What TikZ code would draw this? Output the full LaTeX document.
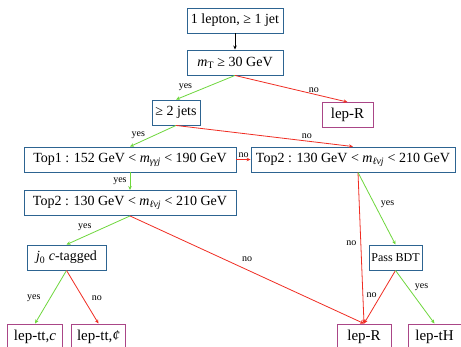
\documentclass[tikz,border=0pt]{standalone}
\usepackage{fontspec}
\setmainfont{Liberation Serif}
\usetikzlibrary{arrows.meta}

\definecolor{cutblue}{RGB}{45,100,145}
\definecolor{regionpink}{RGB}{170,70,135}
\definecolor{yesgreen}{RGB}{110,215,60}
\definecolor{nored}{RGB}{240,45,35}

\tikzset{
  cut/.style={draw=cutblue, line width=0.9pt, fill=white, inner sep=0pt,
    minimum height=25pt, font=\fontsize{14}{16}\selectfont},
  region/.style={draw=regionpink, line width=0.9pt, fill=white, inner sep=0pt,
    minimum height=25pt, font=\fontsize{15}{17}\selectfont},
  yesarrow/.style={yesgreen, line width=0.8pt, -{Stealth[length=4pt,width=3.5pt]}},
  noarrow/.style={nored, line width=0.8pt, -{Stealth[length=4pt,width=3.5pt]}},
  lbl/.style={text=black, inner sep=1pt, font=\fontsize{10}{12}\selectfont}
}

\begin{document}
\begin{tikzpicture}[x=1pt,y=-1pt]
\useasboundingbox (0,0) rectangle (461,346);
\fill[white] (0,0) rectangle (461,346);
\clip (0,0) rectangle (461,346);

% selection boxes
\node[cut, minimum width=96pt] (start) at (235,20.5) {1 lepton, ≥ 1 jet};
\node[cut, minimum width=96pt] (mt) at (235,62.5) {\textit{m}\textsubscript{T} ≥ 30 GeV};
\node[cut, minimum width=48pt] (jets) at (176,112.5) {≥ 2 jets};
\node[cut, minimum width=212pt] (topA) at (130,159.5) {Top1 : 152 GeV < \textit{m}\textsubscript{\textit{γγj}} < 190 GeV};
\node[cut, minimum width=204pt] (topB) at (353,159.5) {Top2 : 130 GeV < \textit{m}\textsubscript{\textit{ℓνj}} < 210 GeV};
\node[cut, minimum width=212pt] (topC) at (130,203) {Top2 : 130 GeV < \textit{m}\textsubscript{\textit{ℓνj}} < 210 GeV};
\node[cut, minimum width=79pt] (ctag) at (66.5,257.5) {\textit{j}\textsubscript{0} \textit{c}-tagged};
\node[cut, minimum width=53pt, font=\fontsize{12}{14}\selectfont] (bdt) at (395.5,257.5) {Pass BDT};

% regions
\node[region, minimum width=51pt] (lepRa) at (347.5,115) {lep-R};
\node[region, minimum width=55pt] (ttc) at (35,336.5) {lep-tt,\textit{c}};
\node[region, minimum width=54pt] (ttnc) at (98.5,336.5) {lep-tt,\textit{¢}};
\node[region, minimum width=54pt] (lepRb) at (364,336.5) {lep-R};
\node[region, minimum width=53pt] (tH) at (434.5,336.5) {lep-tH};

\coordinate (fork) at ([xshift=5pt]topB.south);

\draw[line width=0.8pt, -{Stealth[length=4pt,width=3.5pt]}] (start.south) -- (mt.north);
\draw[yesarrow] (mt.south) -- (jets.north) node[lbl, pos=.5, left=12pt] {yes};
\draw[noarrow] (mt.south) -- (lepRa.north) node[lbl, pos=.7, above] {no};
\draw[yesarrow] (jets.south) -- (topA.north) node[lbl, pos=.45, left=9pt] {yes};
\draw[noarrow] (jets.south) -- (topB.north) node[lbl, pos=.74, above=1pt] {no};
\draw[noarrow] (topA.east) -- (topB.west) node[lbl, midway, above=1pt] {no};
\draw[yesarrow] (topA.south) -- (topC.north) node[lbl, midway, left=2pt] {yes};
\draw[yesarrow] (topC.south) -- (ctag.north) node[lbl, pos=.38, left=13pt] {yes};
\draw[noarrow] (topC.south) -- (lepRb.north) node[lbl, midway, above=7pt] {no};
\draw[noarrow] (fork) -- (lepRb.north) node[lbl, pos=.47, left=3pt] {no};
\draw[yesarrow] (fork) -- (bdt.north) node[lbl, pos=.44, right=5pt] {yes};
\draw[noarrow] (bdt.south) -- (lepRb.north) node[lbl, pos=.46, left=3pt] {no};
\draw[yesarrow] (bdt.south) -- (tH.north) node[lbl, pos=.31, right=6pt] {yes};
\draw[yesarrow] (ctag.south) -- (ttc.north) node[lbl, pos=.53, left=8pt] {yes};
\draw[noarrow] (ctag.south) -- (ttnc.north) node[lbl, pos=.53, right=7pt] {no};
\end{tikzpicture}
\end{document}
